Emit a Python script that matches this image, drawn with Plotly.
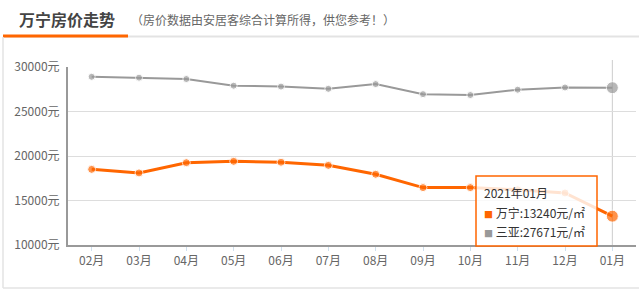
import plotly.graph_objects as go

months = ["02月", "03月", "04月", "05月", "06月", "07月", "08月", "09月", "10月", "11月", "12月", "01月"]
wanning = [18500, 18100, 19250, 19400, 19300, 18950, 17950, 16450, 16450, 16200, 15850, 13240]
sanya = [28900, 28800, 28650, 27900, 27800, 27550, 28080, 26950, 26850, 27450, 27700, 27671]
y_ticks = [10000, 15000, 20000, 25000, 30000]
y_tick_labels = [f"{v}元" for v in y_ticks]

W, H = 639, 291
L, R, T, B = 68, 636, 67, 245
ORANGE = "#ff6600"
GRAY = "#999999"
FONT = "Noto Sans CJK SC, Microsoft YaHei, sans-serif"


def px_x(px):
    return (px - L) / (R - L)


def px_y(py):
    return (B - py) / (B - T)


n = len(months)
w_sizes = [8] * (n - 1) + [12]
g_sizes = [7] * (n - 1) + [12]

fig = go.Figure()
fig.add_trace(go.Scatter(x=months, y=sanya, mode="lines+markers", name="三亚",
                         line=dict(color=GRAY, width=2),
                         marker=dict(color=GRAY, size=g_sizes), hoverinfo="skip"))
fig.add_trace(go.Scatter(x=months, y=wanning, mode="lines+markers", name="万宁",
                         line=dict(color=ORANGE, width=3),
                         marker=dict(color=ORANGE, size=w_sizes), hoverinfo="skip"))

shapes = []
shapes.append(dict(type="line", xref="x", yref="paper", x0=months[-1], x1=months[-1],
                   y0=0, y1=px_y(60), line=dict(color="#cccccc", width=1), layer="below"))
shapes.append(dict(type="line", xref="paper", yref="paper", x0=px_x(3), x1=px_x(639),
                   y0=px_y(36.5), y1=px_y(36.5), line=dict(color="#e3e3e3", width=2)))
shapes.append(dict(type="line", xref="paper", yref="paper", x0=px_x(3), x1=px_x(128),
                   y0=px_y(36), y1=px_y(36), line=dict(color=ORANGE, width=3)))
shapes.append(dict(type="line", xref="paper", yref="paper", x0=px_x(3), x1=px_x(3),
                   y0=px_y(37), y1=px_y(288), line=dict(color="#e3e3e3", width=1.5)))
shapes.append(dict(type="line", xref="paper", yref="paper", x0=px_x(3), x1=px_x(639),
                   y0=px_y(288), y1=px_y(288), line=dict(color="#e3e3e3", width=1.5)))
shapes.append(dict(type="rect", xref="paper", yref="paper", x0=px_x(476), x1=px_x(597),
                   y0=px_y(176), y1=px_y(246), fillcolor="rgba(255,255,255,0.82)",
                   line=dict(color=ORANGE, width=1.5), layer="above"))

TIP = dict(xref="paper", yref="paper", xanchor="left", yanchor="middle", showarrow=False,
           font=dict(size=12, color="#333333", family=FONT))
annotations = [
    dict(text="<b>万宁房价走势</b>", xref="paper", yref="paper", x=px_x(17), y=px_y(19),
         xanchor="left", yanchor="middle", showarrow=False,
         font=dict(size=16, color="#444444", family=FONT)),
    dict(text="（房价数据由安居客综合计算所得，供您参考！）", xref="paper", yref="paper",
         x=px_x(129), y=px_y(20), xanchor="left", yanchor="middle", showarrow=False,
         font=dict(size=12, color="#666666", family=FONT)),
    dict(text="2021年01月", x=px_x(482), y=px_y(192), **TIP),
    dict(text=f"<span style='color:{ORANGE};font-size:9px'>■</span> 万宁:{wanning[-1]}元/㎡",
         x=px_x(482), y=px_y(212), **TIP),
    dict(text=f"<span style='color:{GRAY};font-size:9px'>■</span> 三亚:{sanya[-1]}元/㎡",
         x=px_x(482), y=px_y(231), **TIP),
]

fig.update_layout(
    width=W, height=H,
    margin=dict(l=L, r=W - R, t=T, b=H - B, pad=0),
    paper_bgcolor="white", plot_bgcolor="white",
    showlegend=False,
    font=dict(family=FONT, size=12, color="#666666"),
    shapes=shapes, annotations=annotations,
    xaxis=dict(type="category", categoryorder="array", categoryarray=months,
               range=[-0.5, n - 0.5], showgrid=False, showline=True,
               linecolor="#999999", linewidth=2, ticks="outside", ticklen=4,
               tickcolor="#cfe0ee", tickfont=dict(size=12, color="#666666"), fixedrange=True),
    yaxis=dict(range=[10000, 30000], tickvals=y_ticks, ticktext=y_tick_labels,
               showgrid=True, gridcolor="#dddddd", gridwidth=1, showline=True,
               linecolor="#999999", linewidth=2, ticks="", ticklabelstandoff=4,
               zeroline=False, tickfont=dict(size=12, color="#666666"), fixedrange=True),
)

fig.write_html("out.html")
